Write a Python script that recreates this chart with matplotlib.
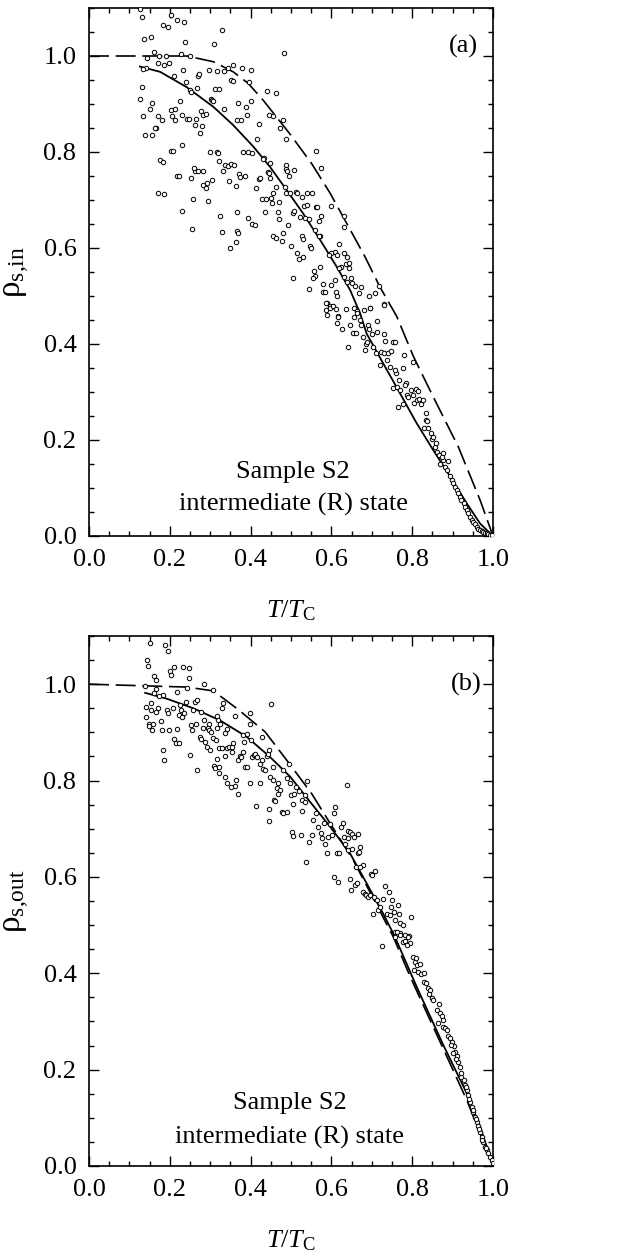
import matplotlib
matplotlib.use('Agg')
import matplotlib.pyplot as plt
from matplotlib.ticker import MultipleLocator, FormatStrFormatter

plt.rcParams['font.family'] = ['Liberation Serif', 'DejaVu Serif']
plt.rcParams['mathtext.fontset'] = 'custom'
plt.rcParams['mathtext.rm'] = 'Liberation Serif'
plt.rcParams['mathtext.it'] = 'Liberation Serif:italic'
plt.rcParams['mathtext.bf'] = 'Liberation Serif:bold'

# ---------------- data: panel (a) ----------------
scatter_a = [
(0.126,1.097),(0.130,1.082),(0.203,1.086),(0.182,1.065),(0.196,1.060),(0.219,1.076),(0.236,1.071),(0.137,1.035),(0.153,1.040),(0.329,1.055),
(0.238,1.029),(0.160,1.009),(0.310,1.024),(0.483,1.006),(0.190,1.000),(0.174,1.001),(0.250,1.000),(0.228,1.005),(0.171,0.986),(0.186,0.981),
(0.198,0.986),(0.140,0.976),(0.144,0.996),(0.134,0.972),(0.233,0.971),(0.297,0.971),(0.317,0.968),(0.333,0.969),(0.345,0.976),(0.356,0.981),
(0.378,0.976),(0.400,0.971),(0.210,0.958),(0.269,0.958),(0.273,0.963),(0.240,0.946),(0.268,0.934),(0.130,0.936),(0.249,0.929),(0.252,0.926),
(0.312,0.932),(0.323,0.932),(0.352,0.949),(0.356,0.948),(0.395,0.945),(0.440,0.928),(0.464,0.923),(0.127,0.910),(0.157,0.902),(0.150,0.890),
(0.133,0.874),(0.170,0.874),(0.180,0.867),(0.167,0.851),(0.163,0.849),(0.139,0.836),(0.156,0.836),(0.204,0.888),(0.213,0.890),(0.225,0.907),
(0.205,0.874),(0.212,0.867),(0.243,0.869),(0.248,0.869),(0.229,0.877),(0.263,0.857),(0.279,0.854),(0.274,0.840),(0.266,0.869),(0.278,0.885),
(0.281,0.878),(0.289,0.879),(0.303,0.910),(0.304,0.908),(0.308,0.906),(0.335,0.890),(0.369,0.903),(0.388,0.894),(0.367,0.867),(0.375,0.867),
(0.390,0.878),(0.401,0.907),(0.422,0.858),(0.445,0.878),(0.455,0.874),(0.479,0.867),(0.474,0.851),(0.417,0.828),(0.487,0.828),(0.563,0.803),
(0.575,0.767),(0.380,0.800),(0.394,0.800),(0.403,0.797),(0.300,0.800),(0.316,0.800),(0.319,0.797),(0.322,0.781),(0.204,0.803),(0.207,0.803),
(0.229,0.815),(0.176,0.783),(0.182,0.780),(0.217,0.751),(0.222,0.751),(0.252,0.746),(0.262,0.761),(0.271,0.760),(0.283,0.760),(0.259,0.767),
(0.282,0.731),(0.289,0.726),(0.291,0.735),(0.305,0.742),(0.331,0.760),(0.337,0.773),(0.345,0.771),(0.352,0.774),(0.359,0.773),(0.347,0.740),
(0.365,0.730),(0.372,0.754),(0.374,0.747),(0.385,0.749),(0.413,0.724),(0.421,0.743),(0.423,0.745),(0.434,0.787),(0.431,0.786),(0.448,0.777),
(0.444,0.759),(0.445,0.756),(0.448,0.745),(0.488,0.772),(0.488,0.764),(0.491,0.761),(0.494,0.751),(0.507,0.763),(0.488,0.715),(0.498,0.714),
(0.512,0.717),(0.516,0.714),(0.540,0.715),(0.552,0.715),(0.486,0.728),(0.463,0.727),(0.455,0.714),(0.427,0.703),(0.437,0.703),(0.450,0.705),
(0.452,0.694),(0.471,0.695),(0.172,0.715),(0.185,0.712),(0.257,0.703),(0.295,0.698),(0.231,0.678),(0.435,0.676),(0.526,0.707),(0.532,0.688),
(0.539,0.689),(0.562,0.685),(0.564,0.685),(0.569,0.657),(0.574,0.667),(0.598,0.687),(0.632,0.666),(0.630,0.644),(0.506,0.672),(0.508,0.678),
(0.523,0.665),(0.535,0.663),(0.545,0.660),(0.559,0.638),(0.571,0.626),(0.468,0.674),(0.471,0.660),(0.493,0.647),(0.479,0.632),(0.455,0.625),
(0.462,0.621),(0.477,0.615),(0.500,0.605),(0.514,0.590),(0.519,0.577),(0.530,0.581),(0.527,0.626),(0.529,0.618),(0.547,0.604),(0.550,0.599),
(0.559,0.542),(0.572,0.561),(0.570,0.626),(0.394,0.663),(0.404,0.649),(0.410,0.647),(0.366,0.674),(0.366,0.635),(0.368,0.631),(0.324,0.667),
(0.328,0.633),(0.255,0.640),(0.348,0.599),(0.363,0.612),(0.506,0.538),(0.545,0.514),(0.556,0.552),(0.554,0.538),(0.578,0.524),(0.580,0.508),
(0.584,0.508),(0.588,0.485),(0.586,0.471),(0.597,0.479),(0.611,0.509),(0.614,0.501),(0.610,0.533),(0.609,0.591),(0.613,0.585),(0.623,0.561),
(0.620,0.558),(0.620,0.609),(0.638,0.582),(0.636,0.567),(0.644,0.568),(0.644,0.558),(0.648,0.538),(0.652,0.528),(0.658,0.521),(0.669,0.506),
(0.673,0.518),(0.692,0.500),(0.696,0.476),(0.708,0.506),(0.718,0.521),(0.729,0.483),(0.656,0.474),(0.663,0.469),(0.681,0.471),(0.616,0.458),
(0.598,0.522),(0.638,0.530),(0.630,0.540),(0.599,0.589),(0.594,0.585),(0.630,0.589),
(0.587,0.486),(0.596,0.476),(0.603,0.479),(0.612,0.472),(0.589,0.461),(0.613,0.443),(0.616,0.457),(0.625,0.431),(0.641,0.394),(0.636,0.472),
(0.646,0.440),(0.656,0.456),(0.654,0.422),(0.661,0.422),(0.664,0.465),(0.671,0.449),(0.674,0.439),(0.679,0.414),(0.686,0.401),(0.682,0.388),
(0.687,0.405),(0.690,0.440),(0.696,0.476),(0.694,0.431),(0.700,0.421),(0.704,0.394),(0.710,0.382),(0.713,0.426),(0.712,0.448),(0.720,0.356),
(0.723,0.384),(0.729,0.481),(0.730,0.421),(0.733,0.406),(0.729,0.382),(0.737,0.367),(0.741,0.382),(0.747,0.385),(0.745,0.353),(0.752,0.405),
(0.758,0.405),(0.759,0.340),(0.757,0.346),(0.753,0.308),(0.763,0.311),(0.767,0.324),(0.770,0.304),(0.776,0.349),(0.780,0.377),(0.785,0.318),
(0.781,0.315),(0.764,0.269),(0.777,0.276),(0.786,0.294),(0.790,0.290),(0.796,0.304),(0.803,0.363),(0.803,0.294),(0.804,0.278),(0.809,0.307),
(0.811,0.283),(0.815,0.303),(0.818,0.285),(0.821,0.276),(0.827,0.283),(0.833,0.257),(0.828,0.226),(0.834,0.242),(0.837,0.240),(0.840,0.225),
(0.846,0.215),(0.849,0.203),(0.856,0.186),(0.861,0.174),(0.867,0.168),(0.877,0.158),(0.889,0.156),(0.877,0.172),(0.873,0.165),(0.859,0.193),
(0.852,0.207),(0.869,0.151),(0.881,0.144),(0.885,0.138),(0.894,0.124),(0.898,0.117),(0.902,0.110),(0.906,0.103),(0.910,0.096),(0.914,0.089),
(0.918,0.082),(0.922,0.075),(0.927,0.068),(0.931,0.061),(0.935,0.054),(0.939,0.047),(0.943,0.040),(0.947,0.033),(0.951,0.030),(0.955,0.025),
(0.960,0.019),(0.964,0.015),(0.968,0.013),(0.972,0.011),(0.976,0.009),(0.980,0.007),(0.984,0.006),(0.988,0.004),(0.993,0.003),(0.997,0.002),
]
dashed_a_T = [0.0, 0.242, 0.308, 0.357, 0.394, 0.431, 0.496, 0.551, 0.597, 0.629, 0.683, 0.720, 0.762, 0.803, 0.852, 0.914, 0.968, 1.0]
dashed_a_rho = [1.0, 1.0, 0.988, 0.967, 0.943, 0.908, 0.839, 0.776, 0.714, 0.665, 0.582, 0.519, 0.457, 0.374, 0.290, 0.186, 0.075, 0.0]
solid_a_T = [0.126, 0.176, 0.242, 0.308, 0.357, 0.407, 0.448, 0.489, 0.530, 0.572, 0.613, 0.646, 0.671, 0.687, 0.728, 0.770, 0.811, 0.852, 0.894, 0.935, 0.968, 1.0]
solid_a_rho = [0.978, 0.967, 0.935, 0.894, 0.856, 0.811, 0.769, 0.721, 0.672, 0.617, 0.561, 0.513, 0.464, 0.422, 0.360, 0.297, 0.235, 0.179, 0.124, 0.068, 0.026, 0.0]

# ---------------- data: panel (b) ----------------
scatter_b = [
(0.151,1.086),(0.188,1.082),(0.195,1.069),(0.144,1.050),(0.146,1.038),(0.200,1.028),(0.203,1.019),(0.211,1.036),(0.232,1.035),(0.248,1.033),
(0.247,1.012),(0.160,1.017),(0.166,1.008),(0.139,0.997),(0.167,0.991),(0.162,0.981),(0.184,0.977),(0.174,0.975),(0.217,0.984),(0.242,0.992),
(0.285,1.000),(0.308,0.988),(0.240,0.963),(0.262,0.963),(0.268,0.967),(0.258,0.946),(0.276,0.943),(0.285,0.926),(0.298,0.918),(0.320,0.925),
(0.318,0.934),(0.328,0.950),(0.332,0.960),(0.362,0.934),(0.398,0.941),(0.399,0.917),(0.427,0.890),(0.450,0.959),(0.141,0.952),(0.154,0.960),
(0.153,0.946),(0.172,0.950),(0.167,0.942),(0.140,0.932),(0.148,0.917),(0.149,0.913),(0.156,0.905),(0.158,0.918),(0.177,0.923),(0.180,0.905),
(0.192,0.946),(0.207,0.950),(0.196,0.941),(0.226,0.956),(0.227,0.946),(0.224,0.937),(0.231,0.932),(0.235,0.941),(0.254,0.905),(0.264,0.918),
(0.253,0.916),(0.281,0.909),(0.294,0.910),(0.297,0.905),(0.302,0.901),(0.316,0.910),(0.325,0.918),(0.342,0.908),(0.337,0.898),(0.199,0.905),
(0.218,0.907),(0.210,0.887),(0.216,0.877),(0.223,0.878),(0.182,0.863),(0.186,0.842),(0.250,0.853),(0.267,0.822),(0.275,0.891),(0.278,0.887),
(0.288,0.880),(0.291,0.870),(0.300,0.863),(0.306,0.888),(0.314,0.884),(0.323,0.867),(0.330,0.867),(0.336,0.851),(0.341,0.867),(0.346,0.870),
(0.353,0.869),(0.357,0.877),(0.355,0.860),(0.370,0.842),(0.373,0.851),(0.377,0.848),(0.380,0.894),(0.390,0.896),(0.384,0.880),(0.382,0.860),
(0.387,0.829),(0.390,0.829),(0.400,0.884),(0.404,0.849),(0.408,0.853),(0.412,0.856),(0.416,0.848),(0.427,0.842),(0.423,0.834),(0.431,0.825),
(0.436,0.822),(0.440,0.850),(0.443,0.855),(0.445,0.863),(0.455,0.829),(0.448,0.808),(0.456,0.801),(0.465,0.784),(0.469,0.794),(0.479,0.822),
(0.494,0.835),(0.489,0.806),(0.498,0.794),(0.473,0.780),(0.469,0.772),(0.423,0.794),(0.399,0.794),(0.365,0.801),(0.361,0.789),(0.368,0.773),
(0.413,0.747),(0.309,0.831),(0.311,0.827),(0.321,0.829),(0.323,0.816),(0.337,0.808),(0.341,0.794),(0.352,0.787),(0.316,0.845),(0.446,0.740),
(0.457,0.759),(0.461,0.757),(0.445,0.716),(0.478,0.734),(0.480,0.733),(0.491,0.734),(0.500,0.771),(0.505,0.752),(0.508,0.772),(0.512,0.787),
(0.519,0.779),(0.526,0.759),(0.527,0.737),(0.535,0.770),(0.535,0.756),(0.540,0.799),(0.502,0.694),(0.506,0.685),(0.525,0.687),(0.536,0.631),
(0.545,0.673),(0.551,0.687),(0.555,0.718),(0.562,0.732),(0.568,0.704),(0.574,0.692),(0.576,0.680),(0.582,0.711),(0.585,0.668),(0.588,0.649),
(0.597,0.710),(0.592,0.683),(0.602,0.687),(0.606,0.732),(0.608,0.746),(0.613,0.649),(0.620,0.649),(0.624,0.704),(0.628,0.711),(0.630,0.682),
(0.634,0.668),(0.638,0.790),(0.641,0.656),(0.640,0.696),(0.642,0.680),(0.646,0.694),(0.650,0.690),(0.651,0.657),(0.657,0.683),(0.661,0.621),
(0.666,0.649),(0.667,0.690),(0.669,0.652),(0.672,0.663),(0.677,0.624),(0.607,0.600),(0.617,0.590),(0.645,0.595),(0.648,0.573),(0.658,0.583),
(0.664,0.588),(0.671,0.621),(0.677,0.569),(0.682,0.564),(0.685,0.562),(0.691,0.559),(0.697,0.607),(0.700,0.604),(0.707,0.613),(0.696,0.562),
(0.702,0.524),(0.706,0.559),(0.712,0.552),(0.716,0.531),(0.720,0.538),(0.732,0.582),(0.728,0.555),(0.737,0.524),(0.745,0.521),(0.750,0.552),
(0.754,0.528),(0.764,0.541),(0.767,0.524),(0.771,0.505),(0.776,0.500),(0.758,0.510),(0.796,0.516),(0.757,0.486),(0.770,0.483),(0.782,0.479),
(0.793,0.477),(0.747,0.538),(0.743,0.569),
(0.726,0.456),(0.758,0.476),(0.763,0.486),(0.770,0.479),(0.776,0.464),(0.782,0.467),(0.790,0.476),(0.795,0.462),(0.786,0.459),(0.801,0.434),
(0.807,0.424),(0.811,0.417),(0.809,0.431),(0.819,0.420),(0.805,0.407),(0.815,0.403),(0.823,0.398),(0.829,0.401),(0.828,0.382),(0.833,0.379),
(0.838,0.369),(0.844,0.365),(0.848,0.348),(0.852,0.344),(0.842,0.357),(0.862,0.324),(0.867,0.337),(0.870,0.317),(0.873,0.311),(0.875,0.303),
(0.863,0.296),(0.877,0.289),(0.881,0.286),(0.885,0.282),(0.889,0.270),(0.894,0.265),(0.898,0.258),(0.903,0.249),(0.906,0.237),(0.910,0.228),
(0.914,0.216),(0.918,0.206),(0.922,0.185),(0.927,0.178),(0.931,0.168),(0.935,0.158),(0.939,0.147),(0.943,0.133),(0.947,0.123),(0.951,0.113),
(0.955,0.102),(0.960,0.092),(0.964,0.082),(0.968,0.071),(0.972,0.061),(0.976,0.050),(0.980,0.040),(0.984,0.033),(0.988,0.026),(0.993,0.019),
(0.997,0.012),(0.999,0.007),(0.895,0.251),(0.902,0.235),(0.908,0.223),(0.922,0.192),(0.933,0.163),(0.941,0.140),(0.950,0.116),(0.958,0.097),
(0.966,0.076),(0.974,0.055),(0.983,0.037),
]
dashed_b_T = [0.0, 0.242, 0.308, 0.370, 0.436, 0.496, 0.551, 0.597, 0.654, 0.753, 0.795, 0.865, 0.935, 1.0]
dashed_b_rho = [1.0, 0.994, 0.986, 0.947, 0.901, 0.835, 0.773, 0.711, 0.635, 0.476, 0.393, 0.265, 0.137, 0.0]
solid_b_T = [0.139, 0.192, 0.258, 0.324, 0.390, 0.448, 0.498, 0.547, 0.597, 0.646, 0.687, 0.728, 0.757, 0.811, 0.877, 0.935, 0.968, 1.0]
solid_b_rho = [0.982, 0.970, 0.950, 0.925, 0.891, 0.849, 0.808, 0.756, 0.704, 0.649, 0.587, 0.524, 0.476, 0.372, 0.251, 0.151, 0.082, 0.0]

y_ticks = [0.0, 0.2, 0.4, 0.6, 0.8, 1.0]
x_ticks = [0.0, 0.2, 0.4, 0.6, 0.8, 1.0]

FS = 19

fig = plt.figure(figsize=(6.21, 12.58), dpi=100)
ax_a = fig.add_axes([89/621, 1-536/1258, 404/621, 528/1258])
ax_b = fig.add_axes([89/621, 1-1166/1258, 404/621, 530/1258])

panels = [
    (ax_a, scatter_a, dashed_a_T, dashed_a_rho, solid_a_T, solid_a_rho,
     r'$\mathrm{ρ}_{\mathrm{s{,}in}}$', '(a)', (0.963, 1.02)),
    (ax_b, scatter_b, dashed_b_T, dashed_b_rho, solid_b_T, solid_b_rho,
     r'$\mathrm{ρ}_{\mathrm{s{,}out}}$', '(b)', (0.973, 1.0)),
]

for ax, pts, dT, dR, sT, sR, ylab, tag, tagpos in panels:
    xs = [p[0] for p in pts]
    ys = [p[1] for p in pts]
    ax.plot(dT, dR, color='black', lw=1.2, dashes=(12, 4), zorder=2)
    ax.plot(sT, sR, color='black', lw=1.3, zorder=2)
    ax.plot(xs, ys, ls='none', marker='o', ms=3.2, mfc='white', mec='black', mew=0.7, zorder=3)
    ax.set_xlim(0, 1.0)
    ax.set_ylim(0, 1.1)
    ax.set_xticks(x_ticks)
    ax.set_yticks(y_ticks)
    ax.xaxis.set_minor_locator(MultipleLocator(0.05))
    ax.yaxis.set_minor_locator(MultipleLocator(0.05))
    ax.xaxis.set_major_formatter(FormatStrFormatter('%.1f'))
    ax.yaxis.set_major_formatter(FormatStrFormatter('%.1f'))
    ax.tick_params(which='both', direction='in', top=True, right=True, labelsize=FS, width=1.0)
    ax.tick_params(which='major', length=7, pad=9)
    ax.tick_params(which='minor', length=3.5)
    for s in ax.spines.values():
        s.set_linewidth(1.2)
    ax.set_xlabel(r'$T/T_{\mathrm{C}}$', fontsize=FS)
    ax.xaxis.set_label_coords(0.5, -0.118)
    ax.set_ylabel(ylab, fontsize=24)
    ax.yaxis.set_label_coords(-0.14, 0.5)
    ax.text(tagpos[0], tagpos[1], tag, ha='right', va='center', fontsize=FS)

ax_a.text(0.505, 0.133, 'Sample S2', ha='center', va='center', fontsize=FS)
ax_a.text(0.505, 0.065, 'intermediate (R) state', ha='center', va='center', fontsize=FS)
ax_b.text(0.497, 0.131, 'Sample S2', ha='center', va='center', fontsize=FS)
ax_b.text(0.497, 0.060, 'intermediate (R) state', ha='center', va='center', fontsize=FS)

fig.savefig('out.png', dpi=100)
